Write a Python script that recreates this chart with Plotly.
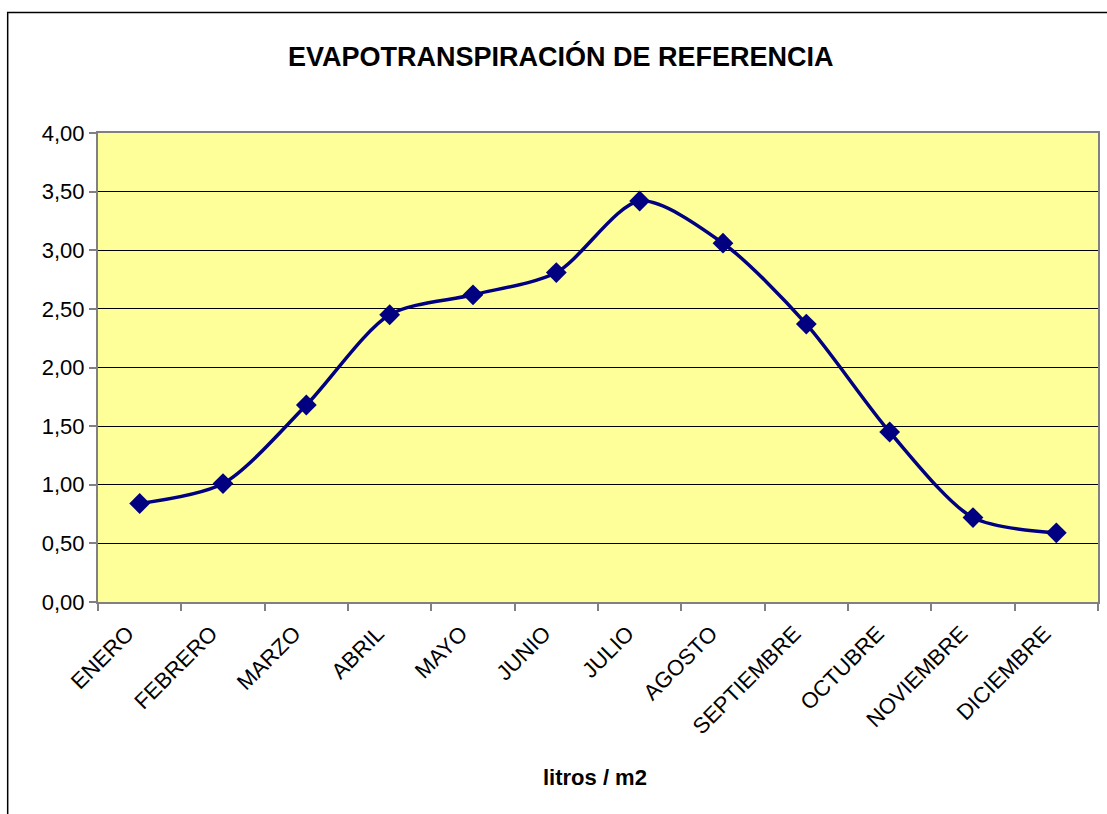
import plotly.graph_objects as go

months = ["ENERO", "FEBRERO", "MARZO", "ABRIL", "MAYO", "JUNIO", "JULIO",
          "AGOSTO", "SEPTIEMBRE", "OCTUBRE", "NOVIEMBRE", "DICIEMBRE"]
eto = [0.84, 1.01, 1.68, 2.45, 2.62, 2.81, 3.42, 3.06, 2.37, 1.45, 0.72, 0.59]
yticks = [0, 0.5, 1, 1.5, 2, 2.5, 3, 3.5, 4]

W, H = 1107, 814
L, R, T, B = 98, 7, 133, 212
pw, ph = W - L - R, H - T - B

def px(x):
    return (x - L) / pw

def py(y):
    return 1 - (y - T) / ph

fig = go.Figure()
fig.add_trace(go.Scatter(
    x=months, y=eto, mode="lines+markers",
    line=dict(color="#000080", width=3.5, shape="spline", smoothing=0.8),
    marker=dict(symbol="diamond", size=16, color="#000080"),
    showlegend=False,
))

fig.update_layout(
    width=W, height=H,
    margin=dict(l=L, r=R, t=T, b=B),
    paper_bgcolor="white",
    plot_bgcolor="#FFFF99",
    separators=", ",
    font=dict(family="Arial, Liberation Sans, sans-serif", size=22, color="black"),
    xaxis=dict(
        type="category", range=[-0.5, len(months) - 0.5],
        tickson="boundaries", ticks="outside", ticklen=7,
        tickcolor="#808080", tickwidth=2, tickangle=-45,
        ticklabelshift=-12, ticklabelstandoff=8,
        showline=True, linecolor="#808080", linewidth=2, mirror=True,
        showgrid=False, tickfont=dict(size=22),
    ),
    yaxis=dict(
        range=[0, 4], tickvals=yticks, tickformat=".2f",
        ticks="outside", ticklen=7, tickcolor="#808080", tickwidth=2,
        showline=True, linecolor="#808080", linewidth=2, mirror=True,
        showgrid=True, gridcolor="black", gridwidth=1, zeroline=False,
        tickfont=dict(size=22),
    ),
    shapes=[dict(type="rect", xref="paper", yref="paper",
                 x0=px(7.5), x1=px(1110), y0=py(12.5), y1=py(830),
                 line=dict(color="black", width=1.5), layer="below")],
    annotations=[
        dict(text="<b>EVAPOTRANSPIRACIÓN DE REFERENCIA</b>", xref="paper", yref="paper",
             x=px(562), y=py(57), showarrow=False, xanchor="center", yanchor="middle",
             font=dict(size=27)),
        dict(text="<b>litros / m2</b>", xref="paper", yref="paper",
             x=px(596), y=py(777), showarrow=False, xanchor="center", yanchor="middle",
             font=dict(size=22)),
    ],
)

fig.write_html("out.html", config={"displayModeBar": False},
               post_script="document.body.style.margin='0';")
